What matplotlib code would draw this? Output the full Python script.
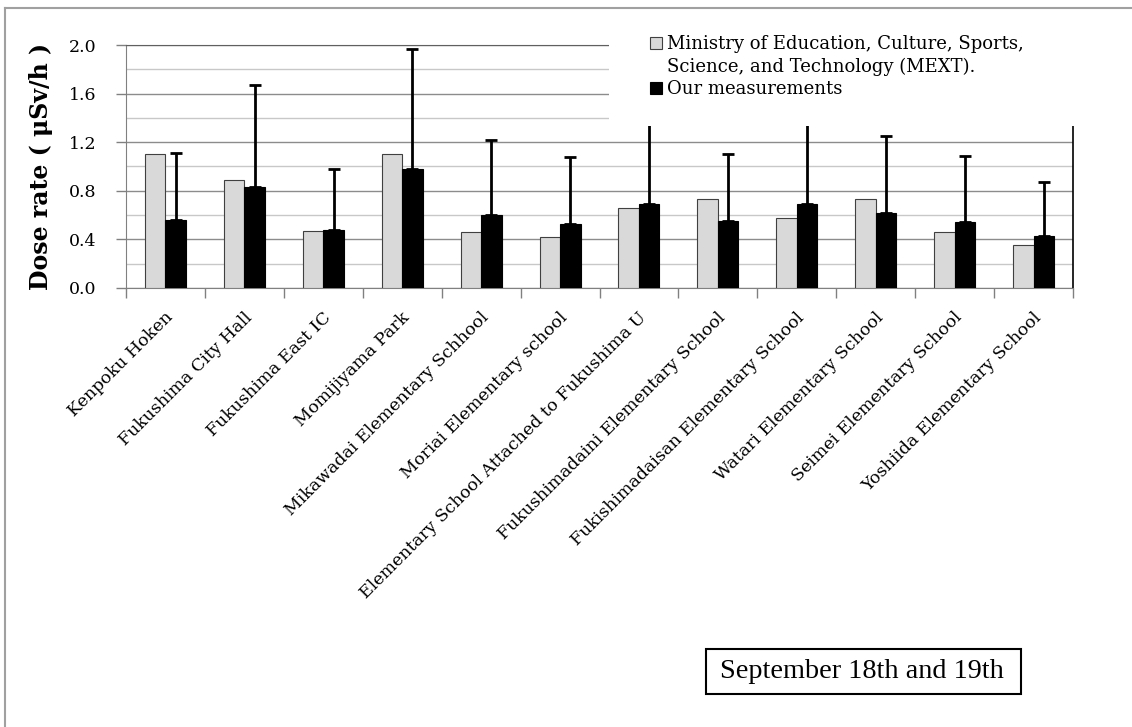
import numpy as np
import matplotlib.pyplot as plt
import matplotlib.transforms as mtransforms
from matplotlib.patches import Rectangle, Patch
from matplotlib.lines import Line2D

# dose rates at each site (uSv/h)
sites = ['Kenpoku Hoken', 'Fukushima City Hall', 'Fukushima East IC',
         'Momijiyama Park', 'Mikawadai Elementary Schhool',
         'Moriai Elementary school',
         'Elementary School Attached to Fukushima U',
         'Fukushimadaini Elementary School',
         'Fukishimadaisan Elementary School', 'Watari Elementary School',
         'Seimei Elementary School', 'Yoshiida Elementary School']
mext = [1.10, 0.89, 0.47, 1.10, 0.46, 0.42, 0.66, 0.73, 0.58, 0.73, 0.46, 0.35]
ours = [0.56, 0.83, 0.48, 0.98, 0.60, 0.53, 0.69, 0.55, 0.69, 0.62, 0.54, 0.43]
ours_sd = [0.55, 0.84, 0.50, 0.99, 0.62, 0.55, 1.10, 0.55, 1.05, 0.63, 0.55, 0.44]
yticks = [0.0, 0.4, 0.8, 1.2, 1.6, 2.0]

W, H = 1132, 727
plt.rcParams['font.family'] = 'DejaVu Serif'

fig = plt.figure(figsize=(W / 100, H / 100), dpi=100)
ax = fig.add_axes([126 / W, 1 - 288 / H, 947 / W, 243 / H])

x = np.arange(len(sites))
w = 0.26
b1 = ax.bar(x - w / 2, mext, w, color='#d9d9d9', edgecolor='#404040', lw=0.8,
            zorder=3)
b2 = ax.bar(x + w / 2, ours, w, color='black', edgecolor='black', lw=0.8,
            zorder=3)
ax.errorbar(x + w / 2, ours, yerr=[np.zeros(len(ours)), ours_sd], fmt='none',
            ecolor='black', elinewidth=2, capsize=4.5, capthick=2, zorder=4)

ax.set_xlim(-0.5, len(sites) - 0.5)
ax.set_ylim(0, 2.0)
ax.set_yticks(yticks)
ax.set_yticklabels(['%.1f' % t for t in yticks], fontsize=12.5)
ax.set_yticks(np.arange(0.2, 2.0, 0.4), minor=True)
ax.tick_params(axis='y', which='major', length=7, width=1, color='#808080', pad=14)
ax.tick_params(axis='y', which='minor', length=0)
ax.yaxis.grid(True, which='major', color='#8c8c8c', lw=1, zorder=0)
ax.yaxis.grid(True, which='minor', color='#c8c8c8', lw=1, zorder=0)

ax.set_xticks(np.arange(-0.5, len(sites), 1.0))
ax.set_xticklabels([])
ax.tick_params(axis='x', which='major', length=7, width=1, color='#808080')
ax.set_xticks(x, minor=True)
ax.set_xticklabels(sites, minor=True, rotation=45, ha='right',
                   rotation_mode='anchor', fontsize=12.5)
ax.tick_params(axis='x', which='minor', length=0, pad=15)
shift = mtransforms.ScaledTranslation(-1 / 100, 0, fig.dpi_scale_trans)
for lab in ax.get_xticklabels(minor=True):
    lab.set_transform(lab.get_transform() + shift)

for side in ['left', 'bottom']:
    ax.spines[side].set_color('#808080')
ax.spines['top'].set_color('#606060')
ax.spines['right'].set_color('black')
ax.spines['right'].set_linewidth(1.2)

ax.set_ylabel('Dose rate ( μSv/h )', fontsize=17, fontweight='bold')
ax.yaxis.set_label_coords(-73 / 947, 0.5)

# white panel behind the legend hides the grid in the top-right corner
fig.add_artist(Rectangle((609 / W, 1 - 126 / H), 475 / W, 114 / H,
                         transform=fig.transFigure, facecolor='white',
                         edgecolor='none', zorder=10))
# the long label wraps; its square sits on the first line
blank = Patch(facecolor='none', edgecolor='none')
leg = fig.legend([b1, blank, b2],
                 ['Ministry of Education, Culture, Sports,',
                  'Science, and Technology (MEXT).',
                  'Our measurements'],
                 loc='upper left', bbox_to_anchor=(641 / W, 1 - 26 / H),
                 frameon=False, fontsize=13, handlelength=0.65,
                 handleheight=0.65, handletextpad=0.3, labelspacing=0.25,
                 borderpad=0)
leg.set_zorder(11)

# date box
fig.add_artist(Rectangle((706 / W, 1 - 694 / H), 315 / W, 45 / H,
                         transform=fig.transFigure, facecolor='white',
                         edgecolor='black', lw=1.5))
fig.text(862 / W, 1 - 672 / H, 'September 18th and 19th',
         family='Liberation Serif', fontsize=20.3, ha='center', va='center')

# outer frame, top and left edges only
fig.add_artist(Line2D([5 / W, 5 / W], [0, 1 - 8 / H],
                      transform=fig.transFigure, color='#a0a0a0', lw=1.5, zorder=12))
fig.add_artist(Line2D([5 / W, 1], [1 - 8 / H, 1 - 8 / H],
                      transform=fig.transFigure, color='#a0a0a0', lw=1.5, zorder=12))

fig.savefig('out.png', dpi=100)
